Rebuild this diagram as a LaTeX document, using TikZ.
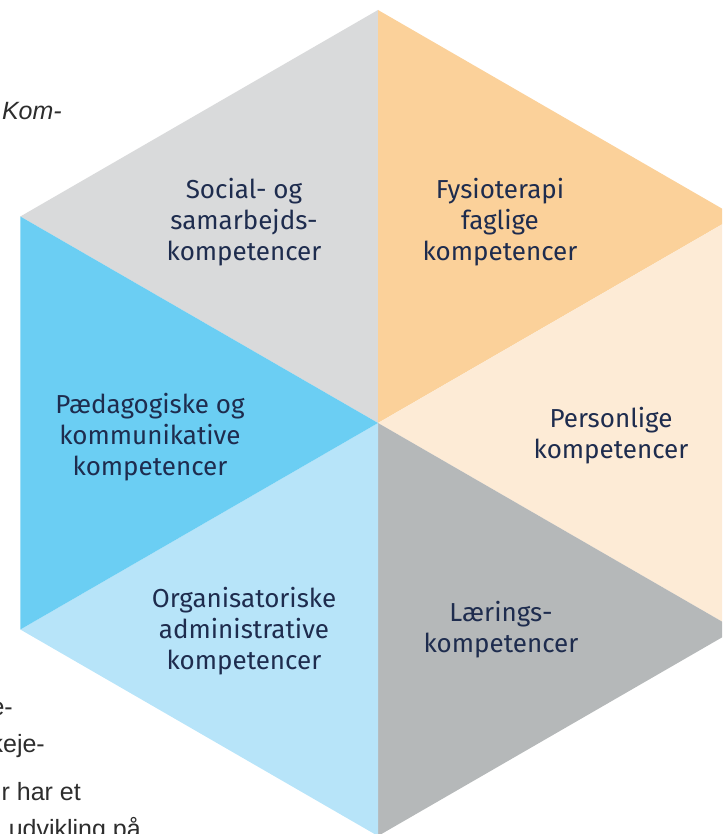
\documentclass[tikz,border=0pt]{standalone}
\usepackage{fontspec}
\setmainfont{Fira Sans}
\newfontfamily\sidefont{Liberation Sans}
\usepackage{tikz}
\usetikzlibrary{calc}
\tikzstyle{kompetence} = [text=navy,align=center,font=\fontsize{26}{31}\selectfont]
\tikzstyle{sidetext} = [text=sidegray,anchor=base east,inner sep=0pt,font=\sidefont\fontsize{25}{28}\selectfont]
\usepackage{color}
\definecolor{navy}{RGB}{30, 44, 78}
\definecolor{sidegray}{RGB}{45, 45, 45}
\definecolor{socialgray}{RGB}{217, 218, 219}
\definecolor{fagorange}{RGB}{251, 209, 154}
\definecolor{personpeach}{RGB}{253, 235, 214}
\definecolor{laergray}{RGB}{181, 184, 185}
\definecolor{orglight}{RGB}{183, 228, 249}
\definecolor{paedblue}{RGB}{107, 206, 243}

\begin{document}
\begin{tikzpicture}[x=1pt,y=1pt]
			\useasboundingbox (0,0) rectangle (722,834);
			\clip (0,0) rectangle (722,834);
			% hexagon corners
			\coordinate (m) at (378,411);
			\coordinate (top) at ($(m)+(90:413)$);
			\coordinate (ro) at ($(m)+(30:413)$);
			\coordinate (ru) at ($(m)+(-30:413)$);
			\coordinate (bund) at ($(m)+(-90:413)$);
			\coordinate (lu) at ($(m)+(-150:413)$);
			\coordinate (lo) at ($(m)+(150:413)$);
			
			\fill[socialgray](m)--(lo)--(top)--cycle;
			\fill[fagorange](m)--(top)--(ro)--cycle;
			\fill[personpeach](m)--(ro)--(ru)--cycle;
			\fill[laergray](m)--(ru)--(bund)--cycle;
			\fill[orglight](m)--(bund)--(lu)--cycle;
			\fill[paedblue](m)--(lu)--(lo)--cycle;
			
			\node [kompetence](social) at (244,612){Social- og\\samarbejds-\\kompetencer};
			\node [kompetence](fysio) at (500,612){Fysioterapi\\faglige\\kompetencer};
			\node [kompetence](person) at (611,398){Personlige\\kompetencer};
			\node [kompetence](laering) at (501,204){Lærings-\\kompetencer};
			\node [kompetence](org) at (244,203){Organisatoriske\\administrative\\kompetencer};
			\node [kompetence](paed) at (150,397){Pædagogiske og\\kommunikative\\kompetencer};
			
			% cut text of the page
			\node [sidetext](kom) at (62,714){\itshape Kom-};
			\node [sidetext](e) at (13,118){e-};
			\node [sidetext](keje) at (45,81){keje-};
			\node [sidetext](har) at (81,33){r har et};
			\node [sidetext](udv) at (141,-4){udvikling på};
\end{tikzpicture}
\end{document}
